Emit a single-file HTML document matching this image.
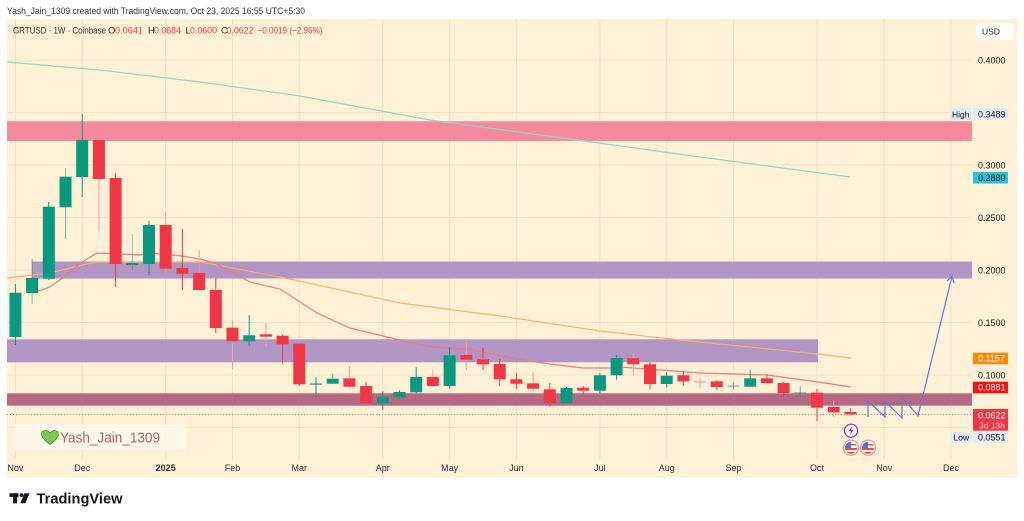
<!DOCTYPE html>
<html><head><meta charset="utf-8"><style>
html,body{margin:0;padding:0;background:#fff;}
svg{display:block;}
text{font-family:"Liberation Sans",sans-serif;}
</style></head><body>
<svg width="1024" height="521" viewBox="0 0 1024 521" xmlns="http://www.w3.org/2000/svg">
<rect x="0" y="0" width="1024" height="521" fill="#ffffff"/>
<text x="7" y="14" font-size="9.5" fill="#333" textLength="298" lengthAdjust="spacingAndGlyphs">Yash_Jain_1309 created with TradingView.com, Oct 23, 2025 16:55 UTC+5:30</text>
<rect x="7" y="19" width="1010" height="458.5" fill="#fef1d6"/>
<!-- grid -->
<g stroke="#f2e2c2" stroke-width="1">
<line x1="7" y1="60" x2="972" y2="60"/><line x1="7" y1="112.5" x2="972" y2="112.5"/><line x1="7" y1="165" x2="972" y2="165"/><line x1="7" y1="217.5" x2="972" y2="217.5"/><line x1="7" y1="270" x2="972" y2="270"/><line x1="7" y1="322.5" x2="972" y2="322.5"/><line x1="7" y1="375" x2="972" y2="375"/><line x1="7" y1="427.5" x2="972" y2="427.5"/>
<line x1="15.4" y1="19" x2="15.4" y2="459"/><line x1="82.2" y1="19" x2="82.2" y2="459"/><line x1="165.7" y1="19" x2="165.7" y2="459"/><line x1="232.5" y1="19" x2="232.5" y2="459"/><line x1="299.3" y1="19" x2="299.3" y2="459"/><line x1="382.8" y1="19" x2="382.8" y2="459"/><line x1="449.6" y1="19" x2="449.6" y2="459"/><line x1="516.4" y1="19" x2="516.4" y2="459"/><line x1="599.9" y1="19" x2="599.9" y2="459"/><line x1="666.7" y1="19" x2="666.7" y2="459"/><line x1="733.5" y1="19" x2="733.5" y2="459"/><line x1="817" y1="19" x2="817" y2="459"/><line x1="884.2" y1="19" x2="884.2" y2="459"/><line x1="951" y1="19" x2="951" y2="459"/>
</g>
<!-- header line 2 -->
<g font-size="9.5">
<text x="13" y="33.5" fill="#333" textLength="93" lengthAdjust="spacingAndGlyphs">GRTUSD · 1W · Coinbase</text>
<text x="108" y="33.5" fill="#333">O</text><text x="115" y="33.5" fill="#f23645" textLength="28" lengthAdjust="spacingAndGlyphs">0.0641</text>
<text x="148" y="33.5" fill="#333">H</text><text x="154" y="33.5" fill="#f23645" textLength="27" lengthAdjust="spacingAndGlyphs">0.0684</text>
<text x="185.5" y="33.5" fill="#333">L</text><text x="190" y="33.5" fill="#f23645" textLength="27" lengthAdjust="spacingAndGlyphs">0.0600</text>
<text x="221" y="33.5" fill="#333">C</text><text x="226.5" y="33.5" fill="#f23645" textLength="27" lengthAdjust="spacingAndGlyphs">0.0622</text>
<text x="257.5" y="33.5" fill="#f23645" textLength="65" lengthAdjust="spacingAndGlyphs">−0.0019 (−2.96%)</text>
</g>
<!-- zones -->
<rect x="7" y="121" width="965" height="20" fill="#f48a9b"/>
<rect x="7" y="121" width="965" height="1" fill="#f6a6b2"/>
<rect x="32" y="261.5" width="940" height="17" fill="#b195c4"/>
<rect x="7" y="339.3" width="811" height="23" fill="#b195c4"/>
<rect x="7" y="393.3" width="965" height="12.4" fill="#b46882"/>
<!-- MA lines -->
<polyline fill="none" stroke="#8fd6c8" stroke-width="1.2" points="7,62 100,70 200,82 300,96 430,120 570,139 700,157 850,177"/>
<polyline fill="none" stroke="#f8b16c" stroke-width="1.2" points="7,278 50,273 82,265 97,262 200,262 217,265 290,279 400,303 500,316 600,331 680,340 818,354 851,358"/>
<polyline fill="none" stroke="#f4787c" stroke-width="1.2" points="33,293 50,287 65,276 82,262 97,253 140,255 149,253 182,256 200,259 215,263 250,282 280,289 317,313 350,328 383,336 400,340 433,347 467,349 487,353 523,360 550,364 583,368 610,368 620,367 700,373 767,375 818,382 851,387"/>
<!-- current price dotted -->
<line x1="7" y1="414.5" x2="972" y2="414.5" stroke="#f23645" stroke-width="1" stroke-dasharray="1,2" opacity="0.8"/>
<!-- candles -->
<g id="c">
<g fill="#089981" stroke="#089981">
<line x1="15.4" y1="284" x2="15.4" y2="345"/><rect x="9.4" y="292.7" width="12" height="44.3" stroke="none"/>
<line x1="32.1" y1="259" x2="32.1" y2="304" stroke-opacity="0.6"/><rect x="26.1" y="278" width="12" height="15" stroke="none"/>
<line x1="48.8" y1="202" x2="48.8" y2="280"/><rect x="42.8" y="206.7" width="12" height="72" stroke="none"/>
<line x1="65.5" y1="168" x2="65.5" y2="239" stroke-opacity="0.6"/><rect x="59.5" y="176.7" width="12" height="30.6" stroke="none"/>
<line x1="82.2" y1="114" x2="82.2" y2="197"/><rect x="76.2" y="140" width="12" height="37" stroke="none"/>
<line x1="132.3" y1="234" x2="132.3" y2="270" stroke-opacity="0.5"/><rect x="126.3" y="263" width="12" height="2" stroke="none"/>
<line x1="149" y1="221" x2="149" y2="275"/><rect x="143" y="225" width="12" height="39" stroke="none"/>
<line x1="249.2" y1="315.3" x2="249.2" y2="345.7"/><rect x="243.2" y="335.3" width="12" height="6" stroke="none"/>
<line x1="316" y1="377.3" x2="316" y2="396"/><rect x="310" y="383.5" width="12" height="1.2" stroke="none"/>
<line x1="332.7" y1="373.7" x2="332.7" y2="383.7" stroke-opacity="0.5"/><rect x="326.7" y="378.7" width="12" height="5" stroke="none"/>
<line x1="382.8" y1="391.3" x2="382.8" y2="410"/><rect x="376.8" y="397" width="12" height="6" stroke="none"/>
<line x1="399.5" y1="390.3" x2="399.5" y2="400"/><rect x="393.5" y="392" width="12" height="5.3" stroke="none"/>
<line x1="416.2" y1="367.3" x2="416.2" y2="393.3"/><rect x="410.2" y="377" width="12" height="15.3" stroke="none"/>
<line x1="449.6" y1="347.3" x2="449.6" y2="388.7"/><rect x="443.6" y="355.3" width="12" height="30.7" stroke="none"/>
<line x1="566.5" y1="387" x2="566.5" y2="403"/><rect x="560.5" y="388" width="12" height="15" stroke="none"/>
<line x1="599.9" y1="373" x2="599.9" y2="393.3"/><rect x="593.9" y="375.3" width="12" height="15.4" stroke="none"/>
<line x1="616.6" y1="355" x2="616.6" y2="379.7"/><rect x="610.6" y="358" width="12" height="17.3" stroke="none"/>
<line x1="666.7" y1="372" x2="666.7" y2="387.3"/><rect x="660.7" y="375.7" width="12" height="8.3" stroke="none"/>
<line x1="733.5" y1="382.7" x2="733.5" y2="389.3" stroke-opacity="0.6"/><rect x="727.5" y="385.5" width="12" height="1.2" stroke="none" opacity="0.6"/>
<line x1="750.2" y1="369.7" x2="750.2" y2="386.7"/><rect x="744.2" y="378.3" width="12" height="8.4" stroke="none"/>
<line x1="800.3" y1="386.3" x2="800.3" y2="397.7" stroke-opacity="0.6"/><rect x="794.3" y="392.2" width="12" height="1.2" stroke="none" opacity="0.6"/>
</g>
<g fill="#f23645" stroke="#f23645">
<line x1="98.9" y1="140" x2="98.9" y2="231" stroke="#f7a0a6"/><rect x="92.9" y="140" width="12" height="39" stroke="none"/>
<line x1="115.6" y1="173" x2="115.6" y2="287"/><rect x="109.6" y="178" width="12" height="86" stroke="none"/>
<line x1="165.7" y1="212" x2="165.7" y2="272" stroke="#f79aa1"/><rect x="159.7" y="225" width="12" height="43.7" stroke="none"/>
<line x1="182.4" y1="229" x2="182.4" y2="290"/><rect x="176.4" y="268" width="12" height="5.7" stroke="none"/>
<line x1="199.1" y1="250" x2="199.1" y2="290" stroke="#f79aa1"/><rect x="193.1" y="273" width="12" height="17" stroke="none"/>
<line x1="215.8" y1="278" x2="215.8" y2="333"/><rect x="209.8" y="290" width="12" height="38" stroke="none"/>
<line x1="232.5" y1="320.7" x2="232.5" y2="369.3" stroke="#f79aa1"/><rect x="226.5" y="327.7" width="12" height="13.6" stroke="none"/>
<line x1="265.9" y1="323" x2="265.9" y2="346.7" stroke="#f79aa1"/><rect x="259.9" y="334.3" width="12" height="2.4" stroke="none"/>
<line x1="282.6" y1="334.7" x2="282.6" y2="363.7"/><rect x="276.6" y="335.7" width="12" height="8.6" stroke="none"/>
<line x1="299.3" y1="343.7" x2="299.3" y2="385.7"/><rect x="293.3" y="343.7" width="12" height="40.6" stroke="none"/>
<line x1="349.4" y1="366" x2="349.4" y2="387.7" stroke="#f79aa1"/><rect x="343.4" y="378.3" width="12" height="8.4" stroke="none"/>
<line x1="366.1" y1="382" x2="366.1" y2="403"/><rect x="360.1" y="386" width="12" height="17" stroke="none"/>
<line x1="432.9" y1="370" x2="432.9" y2="386" stroke="#f79aa1"/><rect x="426.9" y="377" width="12" height="9" stroke="none"/>
<line x1="466.3" y1="341.7" x2="466.3" y2="370" stroke="#f79aa1"/><rect x="460.3" y="355" width="12" height="4.7" stroke="none"/>
<line x1="483" y1="347.7" x2="483" y2="370"/><rect x="477" y="359.3" width="12" height="5" stroke="none"/>
<line x1="499.7" y1="359" x2="499.7" y2="386"/><rect x="493.7" y="364" width="12" height="15.3" stroke="none"/>
<line x1="516.4" y1="372.7" x2="516.4" y2="389"/><rect x="510.4" y="379.3" width="12" height="4.4" stroke="none"/>
<line x1="533.1" y1="372" x2="533.1" y2="392.3" stroke="#f79aa1"/><rect x="527.1" y="383.3" width="12" height="5.4" stroke="none"/>
<line x1="549.8" y1="383" x2="549.8" y2="406.7"/><rect x="543.8" y="389.3" width="12" height="13.7" stroke="none"/>
<line x1="583.2" y1="386" x2="583.2" y2="396"/><rect x="577.2" y="387.7" width="12" height="3" stroke="none"/>
<line x1="633.3" y1="353.3" x2="633.3" y2="375.7" stroke="#f79aa1"/><rect x="627.3" y="358.3" width="12" height="6" stroke="none"/>
<line x1="650" y1="362.3" x2="650" y2="389.3"/><rect x="644" y="364.3" width="12" height="19.7" stroke="none"/>
<line x1="683.4" y1="370.7" x2="683.4" y2="385.7"/><rect x="677.4" y="375.3" width="12" height="6" stroke="none"/>
<line x1="700.1" y1="377.7" x2="700.1" y2="388.3" stroke="#f79aa1"/><rect x="694.1" y="381.2" width="12" height="1.2" stroke="none" fill="#f79aa1"/>
<line x1="716.8" y1="380.3" x2="716.8" y2="390.3"/><rect x="710.8" y="381.3" width="12" height="5.7" stroke="none"/>
<line x1="766.9" y1="374.3" x2="766.9" y2="383"/><rect x="760.9" y="378.3" width="12" height="4.7" stroke="none"/>
<line x1="783.6" y1="382" x2="783.6" y2="396.7"/><rect x="777.6" y="383" width="12" height="10" stroke="none"/>
<line x1="817" y1="388.7" x2="817" y2="421.3"/><rect x="811" y="392.7" width="12" height="15" stroke="none"/>
<line x1="833.7" y1="400.7" x2="833.7" y2="417" stroke="#f79aa1"/><rect x="827.7" y="407" width="12" height="5.3" stroke="none"/>
<line x1="850.4" y1="408" x2="850.4" y2="415.3"/><rect x="844.4" y="412" width="12" height="2.3" stroke="none"/>
</g>
</g>
<!-- blue projection -->
<polyline fill="none" stroke="#6079e6" stroke-width="1.2" points="868,417 868,401 885,417 885,401 902,418 902,397 918,416 952,276"/>
<polyline fill="none" stroke="#6079e6" stroke-width="1.2" points="947,281 952,276 954,283"/>
<!-- icons -->
<circle cx="851" cy="430.7" r="6.5" fill="#fff" stroke="#9c27b0" stroke-width="1.2"/>
<path d="M852.5,426 L848.5,431.2 L851,431.2 L849.6,435.5 L853.6,430 L851.2,430 Z" fill="#9c27b0"/>
<defs>
<clipPath id="f1"><circle cx="851" cy="447.7" r="6"/></clipPath>
<clipPath id="f2"><circle cx="868" cy="447.7" r="6"/></clipPath>
</defs>
<g>
<circle cx="851" cy="447.7" r="7.5" fill="#fff" stroke="#f28a8a" stroke-width="1.2"/>
<g clip-path="url(#f1)"><rect x="844" y="441" width="14" height="14" fill="#fff"/><rect x="844" y="448" width="14" height="2" fill="#e84a4a"/><rect x="844" y="452" width="14" height="2" fill="#e84a4a"/><rect x="844" y="444" width="14" height="1.5" fill="#e84a4a"/><rect x="844" y="441" width="7" height="7" fill="#4a78c8"/></g>
<circle cx="868" cy="447.7" r="7.5" fill="#fff" stroke="#f28a8a" stroke-width="1.2"/>
<g clip-path="url(#f2)"><rect x="861" y="441" width="14" height="14" fill="#fff"/><rect x="861" y="448" width="14" height="2" fill="#e84a4a"/><rect x="861" y="452" width="14" height="2" fill="#e84a4a"/><rect x="861" y="444" width="14" height="1.5" fill="#e84a4a"/><rect x="861" y="441" width="7" height="7" fill="#4a78c8"/></g>
</g>
<!-- watermark -->
<rect x="14" y="424.3" width="172" height="25.7" fill="#fff8ea" opacity="0.85"/>
<path d="M50,444.5 C44,440 41.5,437 41.5,434.3 C41.5,431.8 43.3,430.5 45.6,430.5 C47.6,430.5 49,431.7 50,433.2 C51,431.7 52.4,430.5 54.4,430.5 C56.7,430.5 58.5,431.8 58.5,434.3 C58.5,437 56,440 50,444.5 Z" fill="#7cc855" stroke="#3f8f3a" stroke-width="0.8"/>
<text x="60" y="442.5" font-size="14.5" fill="#a86268" textLength="100" lengthAdjust="spacingAndGlyphs">Yash_Jain_1309</text>
<!-- price axis -->
<rect x="976" y="23" width="37" height="17" rx="3" fill="#ffffff"/>
<text x="982" y="34.5" font-size="8.5" fill="#131722">USD</text>
<g font-size="9" fill="#131722">
<text x="978" y="63.3">0.4000</text>
<text x="978" y="168.3">0.3000</text>
<text x="978" y="220.8">0.2500</text>
<text x="978" y="273.3">0.2000</text>
<text x="978" y="325.8">0.1500</text>
<text x="978" y="378.3">0.1000</text>
</g>
<rect x="950" y="108" width="21.7" height="12" fill="#e3ebf6"/>
<text x="952" y="117.3" font-size="8.5" fill="#131722">High</text>
<rect x="973" y="108" width="35" height="12" fill="#e3ebf6"/>
<text x="978" y="117.3" font-size="9" fill="#131722">0.3489</text>
<rect x="973" y="172" width="35" height="11.5" fill="#26c3d6"/>
<text x="978" y="181" font-size="9" fill="#131722">0.2880</text>
<rect x="973" y="352.7" width="35" height="11.5" fill="#ff8a0a"/>
<text x="978" y="361.7" font-size="9" fill="#ffffff">0.1157</text>
<rect x="973" y="381.7" width="35" height="11.6" fill="#ff1010"/>
<text x="978" y="390.7" font-size="9" fill="#ffffff">0.0881</text>
<rect x="973" y="409" width="35" height="21.7" fill="#f23645"/>
<text x="978" y="418.3" font-size="9" fill="#ffffff">0.0622</text>
<text x="979" y="428.6" font-size="8.5" fill="#ffd0d4">3d 13h</text>
<rect x="950" y="431.7" width="21.7" height="11" fill="#e3ebf6"/>
<text x="953.5" y="440.5" font-size="8.5" fill="#131722">Low</text>
<rect x="973" y="431.7" width="35" height="11" fill="#e3ebf6"/>
<text x="978" y="440.5" font-size="9" fill="#131722">0.0551</text>
<!-- time axis -->
<g font-size="9" fill="#333" text-anchor="middle">
<text x="15.4" y="471">Nov</text>
<text x="82.2" y="471">Dec</text>
<text x="165.7" y="471" font-weight="bold">2025</text>
<text x="232.5" y="471">Feb</text>
<text x="299.3" y="471">Mar</text>
<text x="382.8" y="471">Apr</text>
<text x="449.6" y="471">May</text>
<text x="516.4" y="471">Jun</text>
<text x="599.9" y="471">Jul</text>
<text x="666.7" y="471">Aug</text>
<text x="733.5" y="471">Sep</text>
<text x="817" y="471">Oct</text>
<text x="884.2" y="471">Nov</text>
<text x="951" y="471">Dec</text>
</g>
<!-- logo -->
<g fill="#131722">
<rect x="9.5" y="493.3" width="9" height="3.6"/>
<rect x="13" y="493.3" width="4.2" height="10"/>
<circle cx="21.5" cy="495.1" r="1.9"/>
<path d="M24.5,493.3 L29.5,493.3 L25.3,503.3 L20.3,503.3 Z"/>
</g>
<text x="36.5" y="503.5" font-size="15" font-weight="bold" fill="#131722" textLength="86" lengthAdjust="spacingAndGlyphs">TradingView</text>
</svg>
</body></html>
